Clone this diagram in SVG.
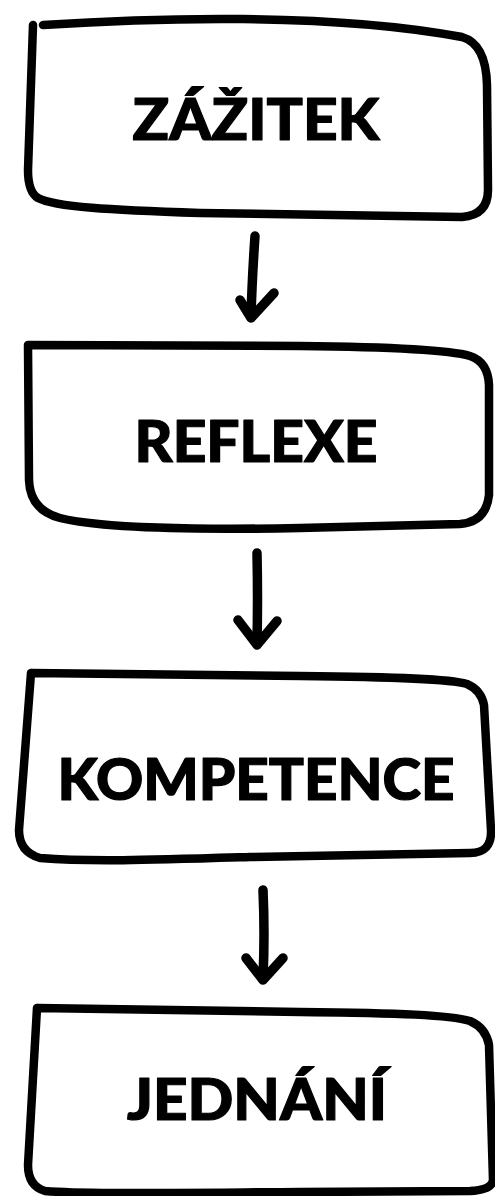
<svg xmlns="http://www.w3.org/2000/svg" width="495" height="1196" viewBox="0 0 495 1196">
<style>
.box{fill:none;stroke:#000;stroke-width:8.5;stroke-linecap:round;stroke-linejoin:round}
.arr{fill:none;stroke:#000;stroke-width:9.5;stroke-linecap:round;stroke-linejoin:round}
.lbl{font-family:Lato,"Open Sans","Liberation Sans",sans-serif;font-weight:900;font-size:58px;fill:#000;stroke:#000;stroke-width:1.2;stroke-linejoin:round;text-anchor:middle}
</style>
<rect width="495" height="1196" fill="#fff"/>
<g id="node-zazitek">
<path class="box" d="M43,25 C150,18 330,12 462,37 Q486,44 487,85 L488,190 Q488,215 462,217 L200,213 C110,210 55,207 38,198 Q28,192 28,170 L33,25"/>
<text class="lbl" x="256" y="140" textLength="247" lengthAdjust="spacingAndGlyphs">ZÁŽITEK</text>
</g>
<g id="node-reflexe">
<path class="box" d="M28,345 L300,346 C400,347 450,350 470,356 Q488,362 489,385 L489,495 Q486,522 460,524 L300,528 C200,530 100,528 60,518 Q30,510 29,480 L28,345"/>
<text class="lbl" x="256" y="462" textLength="243" lengthAdjust="spacingAndGlyphs">REFLEXE</text>
</g>
<g id="node-kompetence">
<path class="box" d="M32,673 L300,676 C400,677 450,679 467,684 Q481,690 484,705 L491,830 Q492,853 470,853 L250,857 C150,860 90,862 40,858 Q19,852 19,830 L31,673"/>
<text class="lbl" x="256" y="800" textLength="397" lengthAdjust="spacingAndGlyphs">KOMPETENCE</text>
</g>
<g id="node-jednani">
<path class="box" d="M38,1008 L300,1012 C400,1013 450,1015 470,1021 Q486,1028 489,1045 L493,1180 Q492,1190 470,1191 L300,1192 C150,1193 80,1194 45,1191 Q28,1186 28,1165 L37,1008"/>
<text class="lbl" x="257" y="1120" textLength="260" lengthAdjust="spacingAndGlyphs">JEDNÁNÍ</text>
</g>
<g id="connectors">
<path class="arr" d="M255,236 Q252,280 251,317"/>
<path class="arr" d="M240,300 L251,318 L274,293"/>
<path class="arr" d="M257,553 Q258,600 257,643"/>
<path class="arr" d="M238,620 L257,645 L277,621"/>
<path class="arr" d="M263,890 Q265,935 263,978"/>
<path class="arr" d="M246,958 L263,980 L283,958"/>
</g>
</svg>
